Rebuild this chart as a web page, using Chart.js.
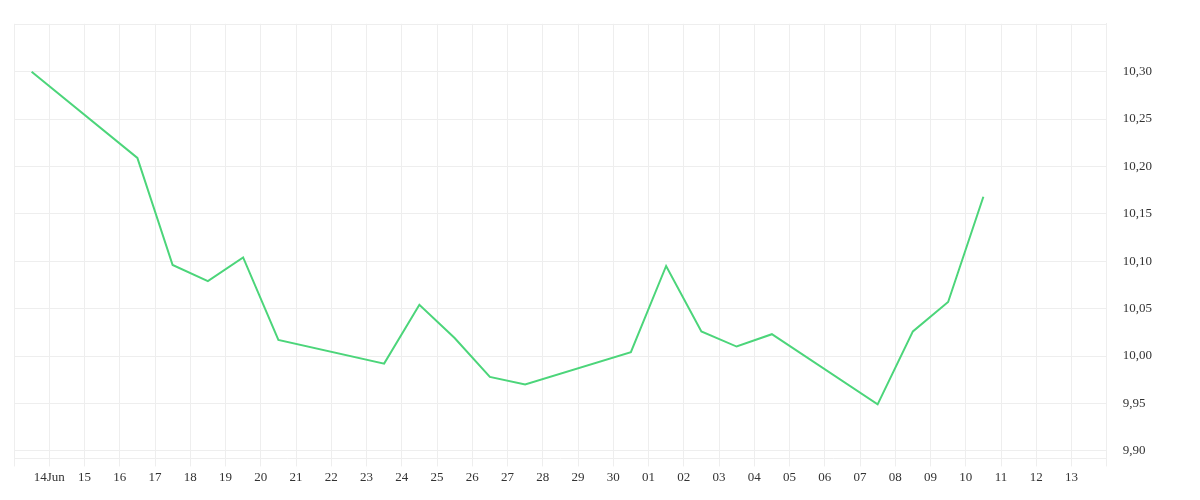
<!DOCTYPE html>
<html>
<head>
<meta charset="utf-8">
<script src="https://cdn.jsdelivr.net/npm/chart.js@4/dist/chart.umd.min.js"></script>
<style>
  html, body { margin: 0; padding: 0; background: #fff; }
  #wrap { width: 1200px; height: 500px; }
</style>
</head>
<body>
<div id="wrap"><canvas id="c"></canvas></div>
<script>
// Rótulos do eixo X (dias, 14 Jun a 13 Jul)
const dayLabels = ['14Jun','15','16','17','18','19','20','21','22','23','24','25','26','27','28','29','30',
                   '01','02','03','04','05','06','07','08','09','10','11','12','13'];
// Posição de cada ponto (índice do dia, 0 = 14 Jun)
const pointDays = [-0.5, 2.5, 3.5, 4.5, 5.5, 6.5, 9.5, 10.5, 11.5, 12.5, 13.5,
                   16.5, 17.5, 18.5, 19.5, 20.5, 23.5, 24.5, 25.5, 26.5];
const pointValues = [10.300, 10.209, 10.096, 10.079, 10.104, 10.017, 9.992, 10.054, 10.019, 9.978, 9.970,
                     10.004, 10.095, 10.026, 10.010, 10.023, 9.949, 10.026, 10.057, 10.168];

const font = { family: 'Liberation Serif', size: 13 };

new Chart(document.getElementById('c'), {
    type: 'line',
    data: {
        datasets: [{
            data: pointDays.map((d, i) => ({ x: d, y: pointValues[i] })),
            borderColor: '#4cd57a',
            borderWidth: 2,
            pointRadius: 0,
            tension: 0,
            fill: false
        }]
    },
    options: {
        responsive: true,
        maintainAspectRatio: false,
        animation: false,
        layout: { padding: { left: 14, top: 3, right: 32, bottom: 12 } },
        plugins: { legend: { display: false }, tooltip: { enabled: false } },
        scales: {
            x: {
                type: 'linear',
                min: -1,
                max: 30,
                afterBuildTicks: ax => { ax.ticks = []; for (let i = -1; i <= 30; i++) ax.ticks.push({ value: i }); },
                ticks: {
                    autoSkip: false,
                    maxRotation: 0,
                    color: '#333',
                    font: font,
                    callback: v => dayLabels[v] !== undefined ? dayLabels[v] : ''
                },
                grid: { color: '#eeeeee', tickLength: 8 },
                border: { color: '#eeeeee' }
            },
            y: {
                position: 'right',
                min: 9.892,
                max: 10.3505,
                afterBuildTicks: ax => { ax.ticks = []; for (let i = 0; i <= 9; i++) ax.ticks.push({ value: 9.90 + i * 0.05 }); },
                ticks: {
                    color: '#333',
                    font: font,
                    padding: 16,
                    callback: v => v > 10.32 ? '' : v.toFixed(2).replace('.', ',')
                },
                grid: { color: '#eeeeee', tickLength: 0 },
                border: { color: '#eeeeee' }
            }
        }
    }
});
</script>
</body>
</html>
